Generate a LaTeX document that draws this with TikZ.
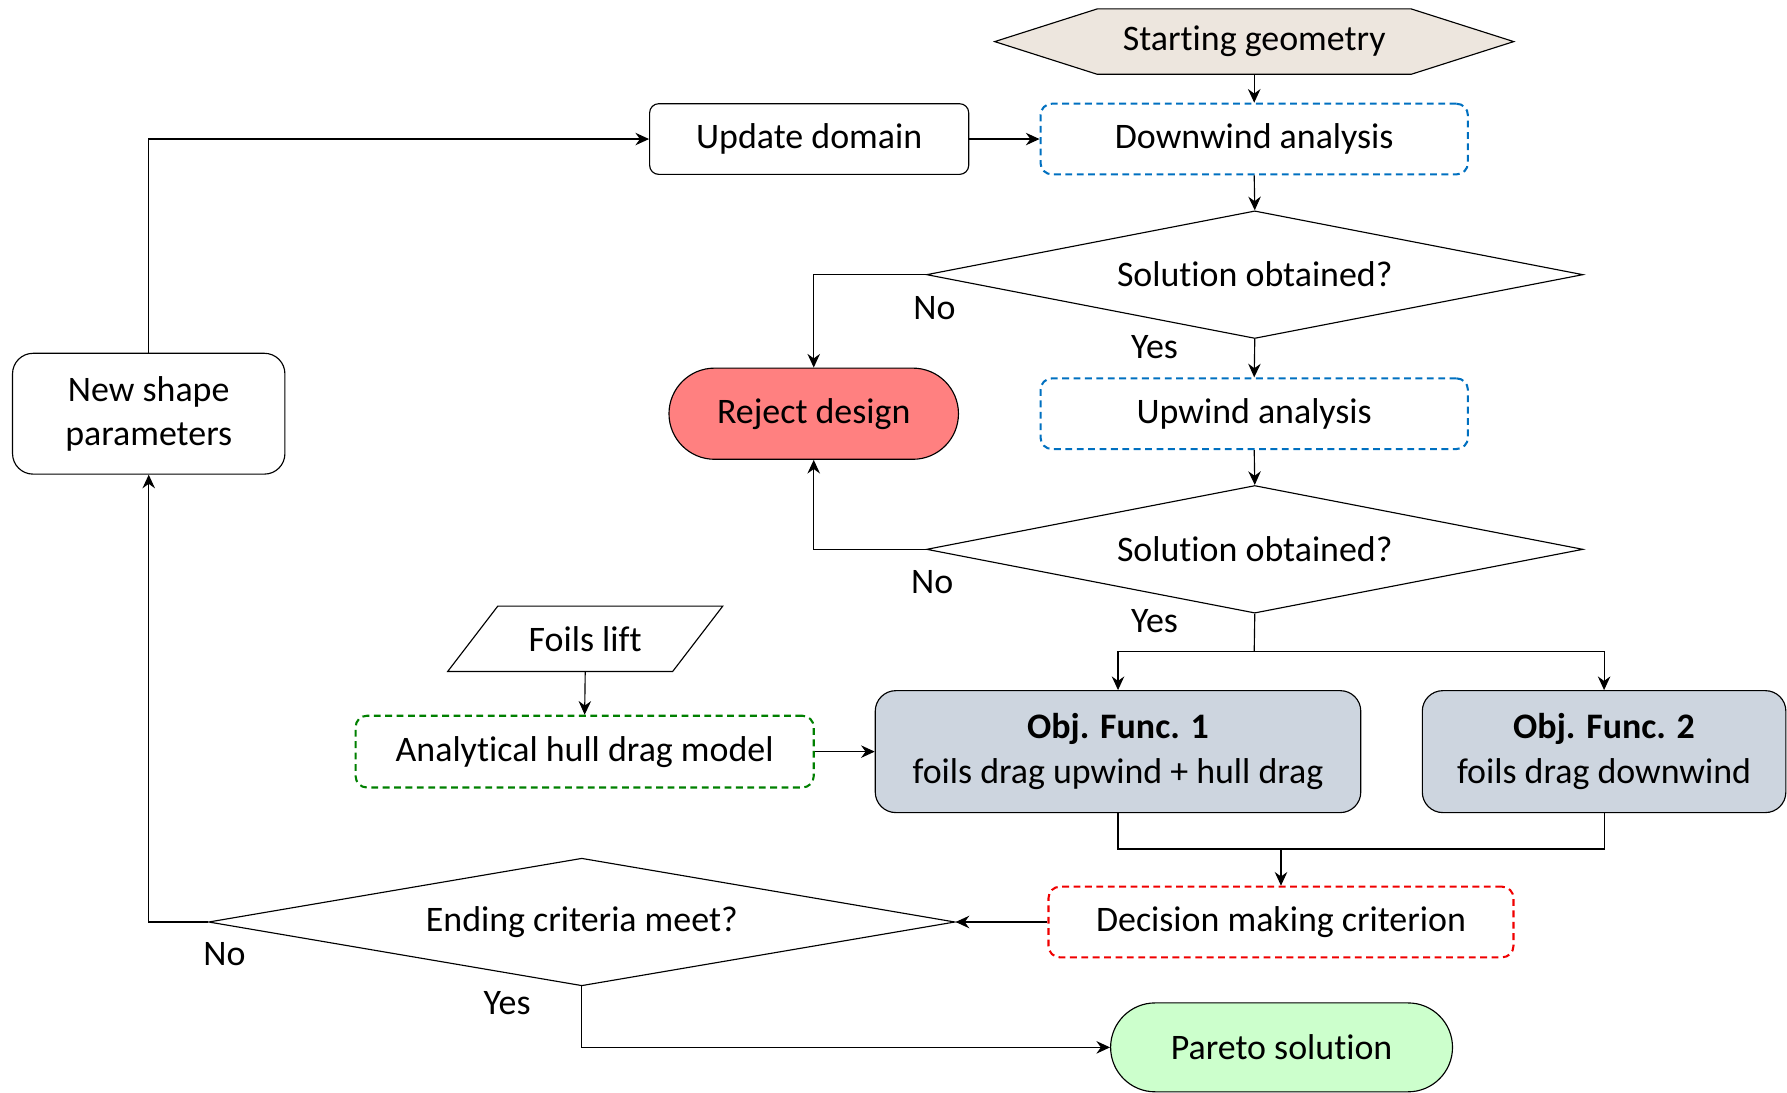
\documentclass[tikz,border=0pt]{standalone}
\usepackage{fontspec}
\setmainfont{Carlito}[Ligatures={NoCommon,NoRequired}]
\usetikzlibrary{arrows.meta,shapes.geometric,shapes.misc,calc,backgrounds}

\definecolor{hexfill}{RGB}{237,230,222}
\definecolor{objfill}{RGB}{205,213,223}
\definecolor{rejfill}{RGB}{255,128,128}
\definecolor{parfill}{RGB}{204,255,204}
\definecolor{dblue}{RGB}{0,112,192}
\definecolor{dgreen}{RGB}{0,128,0}
\definecolor{dred}{RGB}{240,0,0}

\tikzset{
  txt/.style={font=\fontsize{31.5}{39}\selectfont, align=center, inner sep=0pt},
  plainbox/.style={txt, draw, line width=1pt, rounded corners=#1},
  dashbox/.style={txt, draw=#1, line width=1.8pt, dash pattern=on 6pt off 4pt,
                  rounded corners=10pt, minimum width=375pt, minimum height=62pt},
  objbox/.style={txt, draw, line width=1pt, fill=objfill, rounded corners=18pt,
                 minimum height=107pt},
  pill/.style={txt, draw, line width=1pt, rounded rectangle, fill=#1},
  decision/.style={txt, draw, line width=1pt, diamond, aspect=5.14,
                   minimum width=576pt, minimum height=112pt},
  flow/.style={line width=1pt, -{Stealth[length=12pt,width=11pt,inset=4pt]}},
  link/.style={line width=1pt},
  lbl/.style={txt}
}

\begin{document}
\begin{tikzpicture}[x=1pt,y=-1pt]
\useasboundingbox (0,0) rectangle (1568,959);

% process nodes
\node[txt, minimum width=455pt, minimum height=57pt] (start) at (1100.5,36.5) {Starting geometry};
\node[dashbox=dblue] (down) at (1100.5,122) {Downwind analysis};
\node[plainbox=8pt, minimum width=280pt, minimum height=62pt] (upd) at (710,122) {Update domain};
\node[decision] (d1) at (1101,241) {Solution obtained?};
\node[pill=rejfill, minimum width=254pt, minimum height=80pt] (rej) at (714,363) {Reject design};
\node[dashbox=dblue] (up) at (1100.5,363) {Upwind analysis};
\node[decision] (d2) at (1101,482) {Solution obtained?};
\node[plainbox=18pt, minimum width=239pt, minimum height=106pt] (new) at (130.5,363) {New shape\\parameters};
\node[txt, minimum width=241pt, minimum height=57pt] (lift) at (513.5,560.5) {Foils lift};
\node[dashbox=dgreen, minimum width=402pt, minimum height=63pt] (ana) at (513,659.5) {Analytical hull drag model};
\node[objbox, minimum width=426pt] (obj1) at (981,659.5) {\bfseries Obj. Func. 1\\foils drag upwind + hull drag};
\node[objbox, minimum width=319pt] (obj2) at (1407.5,659.5) {\bfseries Obj. Func. 2\\foils drag downwind};
\node[dashbox=dred, minimum width=408pt] (dec) at (1124,809) {Decision making criterion};
\node[decision, minimum width=655pt, aspect=5.85] (d3) at (510.5,809) {Ending criteria meet?};
\node[pill=parfill, minimum width=300pt, minimum height=78pt] (par) at (1124.5,919) {Pareto solution};

% outlines of the input shapes
\begin{scope}[on background layer]
  \draw[line width=1pt, fill=hexfill]
    (start.west) -- ($(start.north west)+(90,0)$) -- ($(start.north east)+(-90,0)$)
    -- (start.east) -- ($(start.south east)+(-90,0)$) -- ($(start.south west)+(90,0)$) -- cycle;
  \draw[line width=1pt]
    ($(lift.north west)+(44,0)$) -- (lift.north east) -- ($(lift.south east)+(-44,0)$)
    -- (lift.south west) -- cycle;
\end{scope}

% branch labels
\node[lbl] (no1) at (820,270) {No};
\node[lbl] (yes1) at (1013,305) {Yes};
\node[lbl] (no2) at (818,511) {No};
\node[lbl] (yes2) at (1013,545) {Yes};
\node[lbl] (no3) at (197,837) {No};
\node[lbl] (yes3) at (445,880) {Yes};

% helper points for split and merge lines
\coordinate (split) at (1100.5,572);
\coordinate (merge) at (1125,745);

% connectors
\draw[flow] (start.south) -- (down.north);
\draw[flow] (upd.east) -- (down.west);
\draw[flow] (down.south) -- (d1.north);
\draw[flow] (d1.west) -| (rej.north);
\draw[flow] (d1.south) -- (up.north);
\draw[flow] (up.south) -- (d2.north);
\draw[flow] (d2.west) -| (rej.south);
\draw[link] (d2.south) -- (split);
\draw[flow] (split) -| (obj1.north);
\draw[flow] (split) -| (obj2.north);
\draw[flow] (lift.south) -- (ana.north);
\draw[flow] (ana.east) -- (obj1.west);
\draw[link] (obj1.south) -- (obj1.south |- merge) -- (obj2.south |- merge) -- (obj2.south);
\draw[flow] (dec.north |- merge) -- (dec.north);
\draw[flow] (dec.west) -- (d3.east);
\draw[flow] (d3.west) -| (new.south);
\draw[flow] (d3.south) |- (par.west);
\draw[flow] (new.north) |- (upd.west);
\end{tikzpicture}
\end{document}
